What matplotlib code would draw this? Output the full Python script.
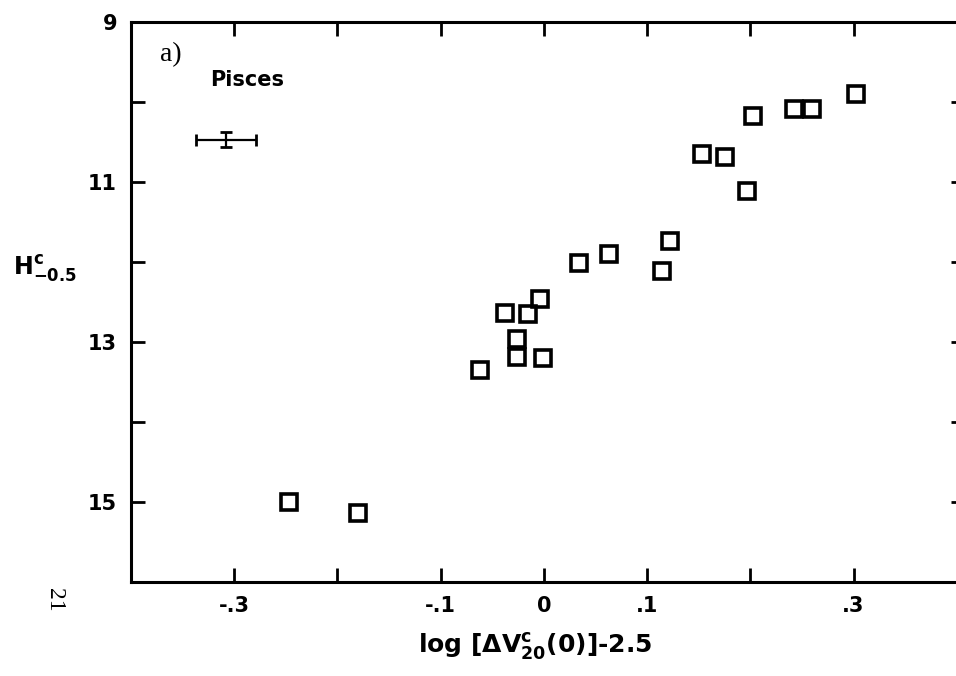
import numpy as np
import matplotlib
matplotlib.use("Agg")
import matplotlib.pyplot as plt

# Pisces: corrected H magnitude vs. log line width
log_width = [-0.247, -0.180, -0.062, -0.038, -0.015, -0.004, -0.026, -0.026,
             -0.001, 0.034, 0.063, 0.114, 0.122, 0.153, 0.175, 0.197,
             0.203, 0.242, 0.260, 0.302]
h_mag = [15.00, 15.14, 13.35, 12.64, 12.65, 12.46, 12.96, 13.19,
         13.20, 12.01, 11.90, 12.11, 11.74, 10.65, 10.69, 11.11,
         10.18, 10.09, 10.09, 9.90]

# typical error bar
err_x, err_y = -0.308, 10.47
err_dx, err_dy = 0.029, 0.095

x_ticks = [-0.4, -0.3, -0.2, -0.1, 0.0, 0.1, 0.2, 0.3, 0.4]
x_ticklabels = ['', '-.3', '', '-.1', '0', '.1', '', '.3', '']
y_ticks = [9, 10, 11, 12, 13, 14, 15, 16]
y_ticklabels = ['9', '', '11', '', '13', '', '15', '']

plt.rcParams['font.family'] = ['DejaVu Sans']
plt.rcParams['mathtext.fontset'] = 'dejavusans'

fig = plt.figure(figsize=(9.56, 6.76), dpi=100)
# right spine sits just past the edge of the page
ax = fig.add_axes([131 / 956, 1 - 582 / 676, 834 / 956, 560 / 676])

ax.plot(log_width, h_mag, 's', ms=11.5, mfc='none', mec='black', mew=2.6,
        ls='none')
ax.errorbar([err_x], [err_y], xerr=[err_dx], yerr=[err_dy], fmt='none',
            ecolor='black', elinewidth=1.6, capsize=4, capthick=2)

ax.set_xlim(-0.394, 0.408)
ax.set_ylim(16, 9)
ax.set_xticks(x_ticks)
ax.set_xticklabels(x_ticklabels)
ax.set_yticks(y_ticks)
ax.set_yticklabels(y_ticklabels)
ax.tick_params(direction='in', length=10, width=2, top=True, right=True,
               labelsize=15, pad=10)
for lab in ax.get_xticklabels() + ax.get_yticklabels():
    lab.set_fontweight('bold')
for sp in ax.spines.values():
    sp.set_linewidth(2.2)

ax.text(0.035, 0.965, 'a)', transform=ax.transAxes, family='Liberation Serif',
        fontsize=20, va='top', ha='left')
ax.text(0.095, 0.915, 'Pisces', transform=ax.transAxes, fontsize=15,
        fontweight='bold', va='top', ha='left')

fig.text(45 / 956, 1 - 268 / 676, r'$\mathbf{H^c_{-0.5}}$', fontsize=17,
         ha='center', va='center')
fig.text(535 / 956, 1 - 646 / 676, r'log [$\mathbf{\Delta V^c_{20}}$(0)]-2.5',
         fontsize=18, fontweight='bold', ha='center', va='center')
fig.text(55 / 956, 1 - 600 / 676, '21', family='Liberation Serif', fontsize=17,
         rotation=-90, ha='center', va='center')

fig.savefig('out.png', dpi=100)
